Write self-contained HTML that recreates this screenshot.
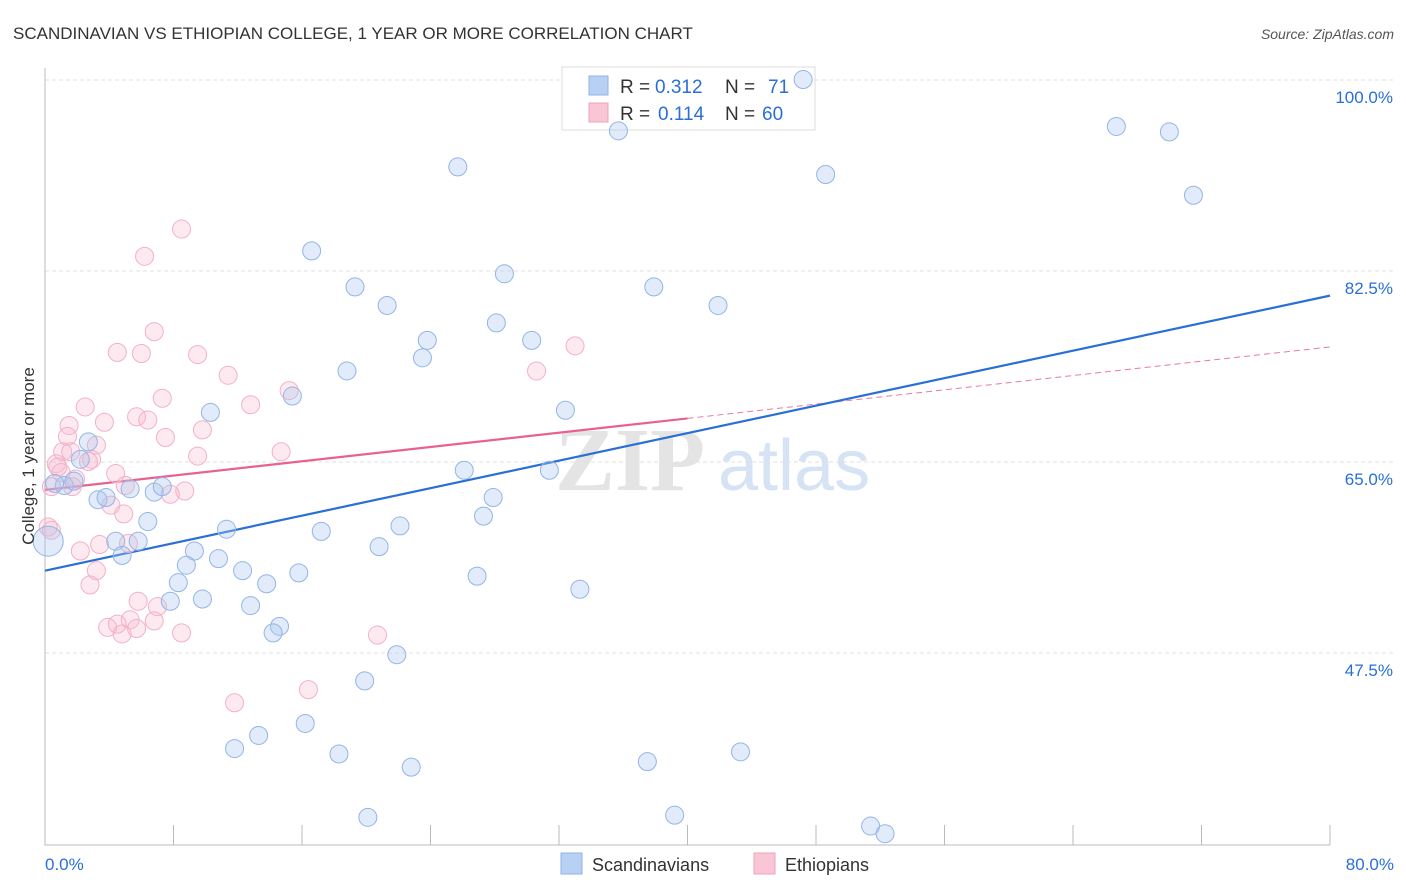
<!DOCTYPE html>
<html><head><meta charset="utf-8"><style>
body{margin:0;background:#fff;font-family:"Liberation Sans",sans-serif}
svg{display:block}
</style></head><body>
<svg id="chart" width="1406" height="892" xmlns="http://www.w3.org/2000/svg">
<text x="13" y="39" font-size="17" fill="#333">SCANDINAVIAN VS ETHIOPIAN COLLEGE, 1 YEAR OR MORE CORRELATION CHART</text>
<text x="1394" y="39" font-size="14" fill="#555" text-anchor="end" font-style="italic">Source: ZipAtlas.com</text>
<g><text x="555" y="490" font-size="90" fill="#e4e4e4" font-family="Liberation Serif,serif" font-weight="bold">ZIP</text><text x="718" y="490" font-size="72" fill="#d6e3f5">atlas</text></g>
<g id="grid"></g><g id="axes"></g>
<g>
<rect x="562" y="67" width="253" height="63" fill="#fff" stroke="#ddd"/>
<rect x="589" y="76" width="19" height="19" fill="#b8d0f3" stroke="#8fb3e6"/>
<rect x="589" y="103" width="19" height="19" fill="#f9c6d6" stroke="#f0a0bc"/>
<text x="620" y="93" font-size="19" fill="#333">R =</text>
<text x="655" y="93" font-size="19" fill="#2a6fd6">0.312</text>
<text x="725" y="93" font-size="19" fill="#333">N =</text>
<text x="768" y="93" font-size="19" fill="#2a6fd6">71</text>
<text x="620" y="120" font-size="19" fill="#333">R =</text>
<text x="658" y="120" font-size="19" fill="#2a6fd6">0.114</text>
<text x="725" y="120" font-size="19" fill="#333">N =</text>
<text x="762" y="120" font-size="19" fill="#2a6fd6">60</text>
</g>
<g id="lines"></g><g id="pts"></g>
<text transform="translate(34,456) rotate(-90)" font-size="17" fill="#333" text-anchor="middle">College, 1 year or more</text>
<g>
<rect x="561" y="853" width="21" height="21" fill="#b8d0f3" stroke="#8fb3e6"/>
<text x="592" y="871" font-size="18" fill="#333">Scandinavians</text>
<rect x="754" y="853" width="21" height="21" fill="#f9c6d6" stroke="#f0a0bc"/>
<text x="785" y="871" font-size="18" fill="#333">Ethiopians</text>
</g>
</svg>
<script>
const yTicks=[100,82.5,65,47.5];
const yTickLabels=["100.0%","82.5%","65.0%","47.5%"];
const xTickLabels=["0.0%","80.0%"];
const blueX=[47.2,35.7,25.7,66.7,70.0,71.5,48.6,16.6,28.6,19.3,37.9,21.3,41.9,28.1,23.8,30.3,23.5,18.8,15.4,10.3,32.4,2.7,2.2,26.1,31.4,1.2,1.8,0.6,3.3,3.8,5.3,6.8,7.3,27.9,27.3,6.4,11.3,17.2,22.1,4.4,5.8,4.8,20.8,9.3,10.8,8.8,12.3,15.8,26.9,8.3,13.8,33.3,7.8,9.8,12.8,14.6,14.2,21.9,19.9,16.2,13.3,11.8,18.3,22.8,37.5,43.3,20.1,39.2,51.4,52.3,0.2];
const blueY=[101.6,96.9,93.6,97.3,96.8,91.0,92.9,85.9,83.8,82.6,82.6,80.9,80.9,79.3,77.7,77.7,76.1,74.9,72.6,71.1,71.3,68.4,66.8,65.8,65.8,64.4,64.8,64.6,63.1,63.3,64.1,63.8,64.3,63.3,61.6,61.1,60.4,60.2,60.7,59.3,59.3,58.0,58.8,58.4,57.7,57.1,56.6,56.4,56.1,55.5,55.4,54.9,53.8,54.0,53.4,51.5,50.9,48.9,46.5,42.6,41.5,40.3,39.8,38.6,39.1,40.0,34.0,34.2,33.2,32.5,59.3];
const pinkX=[8.5,6.2,6.8,4.5,6.0,9.5,33.0,11.4,30.6,7.3,15.2,12.8,2.5,5.7,6.4,3.7,9.8,1.5,1.4,7.5,3.2,2.9,1.1,9.5,14.7,0.7,1.0,1.9,4.4,0.4,1.7,5.0,8.7,7.8,4.1,4.9,0.2,5.2,3.4,2.2,3.2,2.8,5.8,7.0,5.3,6.8,3.9,4.5,5.7,4.8,8.5,20.7,16.4,11.8,0.8,1.6,2.7,0.4];
const pinkY=[87.9,85.4,78.5,76.6,76.5,76.4,77.2,74.5,74.9,72.4,73.1,71.8,71.6,70.7,70.4,70.2,69.5,69.9,68.9,68.8,68.1,66.8,67.5,67.1,67.5,66.4,65.6,65.0,65.5,64.3,64.3,64.4,63.9,63.6,62.6,61.8,60.6,59.1,59.0,58.4,56.6,55.3,53.8,53.3,52.1,52.0,51.4,51.7,51.3,50.8,50.9,50.7,45.7,44.5,66.1,67.5,66.6,60.3];
const blueTrend=[56.6,81.8];
const pinkTrend=[64.0,77.1];
const pinkSolidEnd=40;
const NS="http://www.w3.org/2000/svg";
const X=v=>45+v*1285/80;
const Y=v=>97+(100-v)*10.914;
function mk(p,t,a){const e=document.createElementNS(NS,t);for(const k in a)e.setAttribute(k,a[k]);p.appendChild(e);return e;}
const grid=document.getElementById('grid'),axes=document.getElementById('axes'),lines=document.getElementById('lines'),pts=document.getElementById('pts');
yTicks.forEach((t,i)=>{
 const g=mk(grid,'line',{x1:45,x2:1394,y1:Y(t)-17,y2:Y(t)-17,stroke:'#e2e2e2','stroke-dasharray':'4,3'});
 
 
 const l=mk(grid,'text',{x:1393,y:Y(t)+6,'font-size':17,fill:'#2a6fd6','text-anchor':'end'});
 l.textContent=yTickLabels[i];
 
 
});
const ax=mk(axes,'path',{d:'M45,68 V845 H1330',stroke:'#bbb',fill:'none'});


for(let i=0;i<=10;i++){
 const t=mk(axes,'line',{x1:X(i*8),x2:X(i*8),y1:825,y2:845,stroke:'#bbb'});
 
 
}
const xl0=mk(axes,'text',{x:45,y:870,'font-size':17,fill:'#2a6fd6'});xl0.textContent=xTickLabels[0];


const xl1=mk(axes,'text',{x:1394,y:870,'font-size':17,fill:'#2a6fd6','text-anchor':'end'});xl1.textContent=xTickLabels[1];


function draw(xs,ys,fill,stroke,name){
 xs.forEach((x,i)=>{
  const r=(name==='scandinavian-point'&&i===xs.length-1)?15:9;
  const c=mk(pts,'circle',{cx:X(x),cy:Y(ys[i]),r:r,fill:fill,stroke:stroke,'stroke-width':1});
  
  
 });
}
draw(pinkX,pinkY,'rgba(248,185,206,0.3)','#f3b0c7','ethiopian-point');
draw(blueX,blueY,'rgba(170,198,238,0.35)','#94b5e6','scandinavian-point');
const py=x=>pinkTrend[0]+(pinkTrend[1]-pinkTrend[0])*x/80;
const pd=mk(lines,'line',{x1:X(pinkSolidEnd),y1:Y(py(pinkSolidEnd)),x2:X(80),y2:Y(py(80)),stroke:'#e87aa0','stroke-width':1,'stroke-dasharray':'6,4'});


const bl=mk(lines,'line',{x1:X(0),y1:Y(blueTrend[0]),x2:X(80),y2:Y(blueTrend[1]),stroke:'#2a6fd6','stroke-width':2.2});


const pl=mk(lines,'line',{x1:X(0),y1:Y(py(0)),x2:X(pinkSolidEnd),y2:Y(py(pinkSolidEnd)),stroke:'#e8628f','stroke-width':2.2});


</script>
</body></html>
